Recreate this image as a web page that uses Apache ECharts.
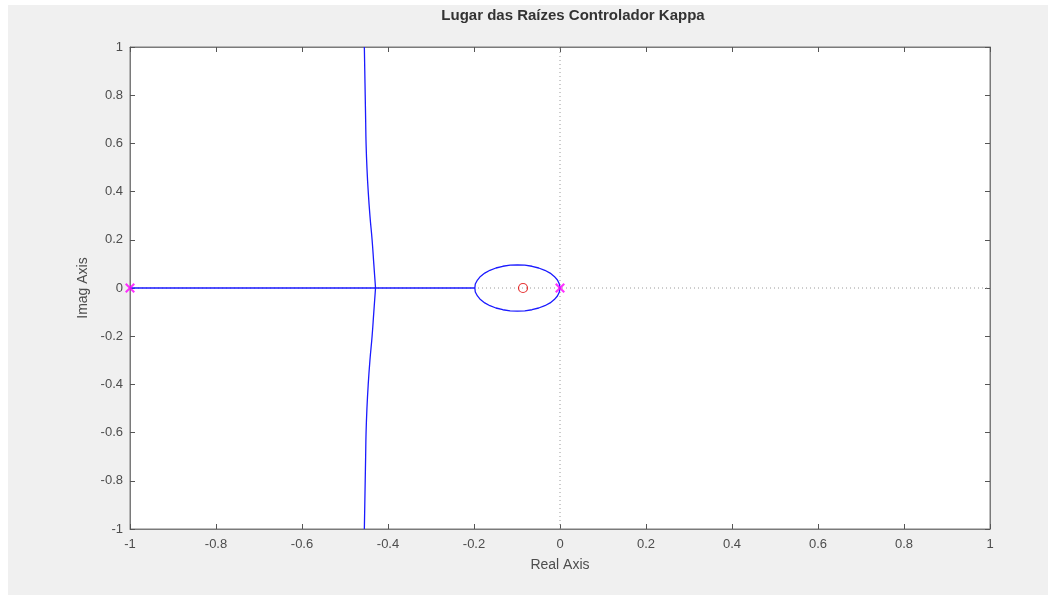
<!DOCTYPE html>
<html>
<head>
<meta charset="utf-8">
<script src="https://cdn.jsdelivr.net/npm/echarts@6/dist/echarts.min.js"></script>
<style>html,body{margin:0;padding:0;background:#fff}#c{width:1048px;height:595px}</style>
</head>
<body>
<div id="c"></div>
<script>
// Data
var titleText = 'Lugar das Raízes Controlador Kappa';
var xName = 'Real Axis';
var yName = 'Imag Axis';
// complex branch (upper half, then lower half) [real, imag]
var branchUpper = [[-0.455,1],[-0.454,0.9],[-0.453,0.8],[-0.452,0.7],[-0.451,0.6],[-0.449,0.5],[-0.446,0.4],[-0.442,0.3],[-0.437,0.2],[-0.433,0.1],[-0.431,0.05],[-0.429,0]];
var branchLower = [[-0.429,0],[-0.431,-0.05],[-0.433,-0.1],[-0.437,-0.2],[-0.442,-0.3],[-0.446,-0.4],[-0.449,-0.5],[-0.451,-0.6],[-0.452,-0.7],[-0.453,-0.8],[-0.454,-0.9],[-0.455,-1]];
// real-axis segment
var realSegment = [[-1,0],[-0.198,0]];
// loop around the origin
var loop = [[0,0],[-0.0015,0.0167],[-0.006,0.033],[-0.0133,0.048],[-0.023,0.062],[-0.0353,0.0735],[-0.0495,0.083],[-0.0651,0.0902],[-0.0818,0.0945],[-0.099,0.096],
            [-0.116,0.0945],[-0.133,0.0902],[-0.149,0.083],[-0.163,0.0735],[-0.175,0.062],[-0.185,0.048],[-0.192,0.033],[-0.197,0.0167],[-0.198,0],
            [-0.197,-0.0167],[-0.192,-0.033],[-0.185,-0.048],[-0.175,-0.062],[-0.163,-0.0735],[-0.149,-0.083],[-0.133,-0.0902],[-0.116,-0.0945],[-0.099,-0.096],
            [-0.0818,-0.0945],[-0.0651,-0.0902],[-0.0495,-0.083],[-0.0353,-0.0735],[-0.023,-0.062],[-0.0133,-0.048],[-0.006,-0.033],[-0.0015,-0.0167],[0,0]];
var poles = [[-1,0],[0,0]];
var zeros = [[-0.086,0]];

var chart = echarts.init(document.getElementById('c'), null, {renderer:'canvas'});
var txt = '#4d4d4d';
var font = 'Liberation Sans, Arial, sans-serif';
function lineSeries(data, smooth){
  return {type:'line', data:data, xAxisIndex:0, yAxisIndex:0, showSymbol:false, symbol:'none', smooth:smooth,
          lineStyle:{color:'#1a1aff', width:1.3}, z:3, animation:false};
}
var option = {
  animation:false,
  backgroundColor:'#ffffff',
  textStyle:{fontFamily:font},
  title:{text:titleText, left:568, top:3, textAlign:'center',
         textStyle:{fontSize:15, fontWeight:'bold', color:'#333333', fontFamily:font}},
  graphic:[{type:'rect', z:-100, silent:true, shape:{x:8,y:5,width:1040,height:590}, style:{fill:'#f0f0f0'}}],
  grid:{left:130, top:47, right:58, bottom:66, show:true, backgroundColor:'#ffffff', borderColor:'#7a7a7a', borderWidth:1},
  xAxis:[
    {type:'value', min:-1, max:1, interval:0.2, position:'bottom',
     name:xName, nameLocation:'middle', nameGap:29, nameTextStyle:{fontSize:14, color:txt, fontFamily:font},
     axisLine:{show:true, onZero:false, lineStyle:{color:'#7a7a7a'}},
     axisTick:{show:true, inside:true, length:5, lineStyle:{color:'#555'}},
     axisLabel:{color:txt, fontSize:13, margin:9, fontFamily:font},
     splitLine:{show:false}},
    {type:'value', min:-1, max:1, interval:0.2, position:'top',
     axisLine:{show:true, onZero:false, lineStyle:{color:'#7a7a7a'}},
     axisTick:{show:true, inside:true, length:5, lineStyle:{color:'#555'}},
     axisLabel:{show:false}, splitLine:{show:false}}
  ],
  yAxis:[
    {type:'value', min:-1, max:1, interval:0.2, position:'left',
     name:yName, nameLocation:'middle', nameGap:35, nameRotate:90, nameTextStyle:{fontSize:14, color:txt, fontFamily:font},
     axisLine:{show:true, onZero:false, lineStyle:{color:'#7a7a7a'}},
     axisTick:{show:true, inside:true, length:5, lineStyle:{color:'#555'}},
     axisLabel:{color:txt, fontSize:13, margin:7, fontFamily:font},
     splitLine:{show:false}},
    {type:'value', min:-1, max:1, interval:0.2, position:'right',
     axisLine:{show:true, onZero:false, lineStyle:{color:'#7a7a7a'}},
     axisTick:{show:true, inside:true, length:5, lineStyle:{color:'#555'}},
     axisLabel:{show:false}, splitLine:{show:false}}
  ],
  series:[
    {type:'line', data:[[0,-1],[0,1]], symbol:'none', lineStyle:{color:'#9a9a9a', width:1, type:[1,3]}, z:1},
    {type:'line', data:[[-1,0],[1,0]], symbol:'none', lineStyle:{color:'#9a9a9a', width:1, type:[1,3]}, z:1},
    lineSeries(branchUpper, true),
    lineSeries(branchLower, true),
    lineSeries(realSegment, false),
    lineSeries(loop, false),
    {type:'scatter', data:zeros, symbol:'circle', symbolSize:9,
     itemStyle:{color:'rgba(0,0,0,0)', borderColor:'#e00000', borderWidth:1.2}, z:5},
    {type:'scatter', data:poles, symbol:'path://M0,1.5 L1.5,0 L5,3.5 L8.5,0 L10,1.5 L6.5,5 L10,8.5 L8.5,10 L5,6.5 L1.5,10 L0,8.5 L3.5,5 Z', symbolSize:10,
     itemStyle:{color:'#ff00ff'}, z:6}
  ]
};
chart.setOption(option);
</script>
</body>
</html>
